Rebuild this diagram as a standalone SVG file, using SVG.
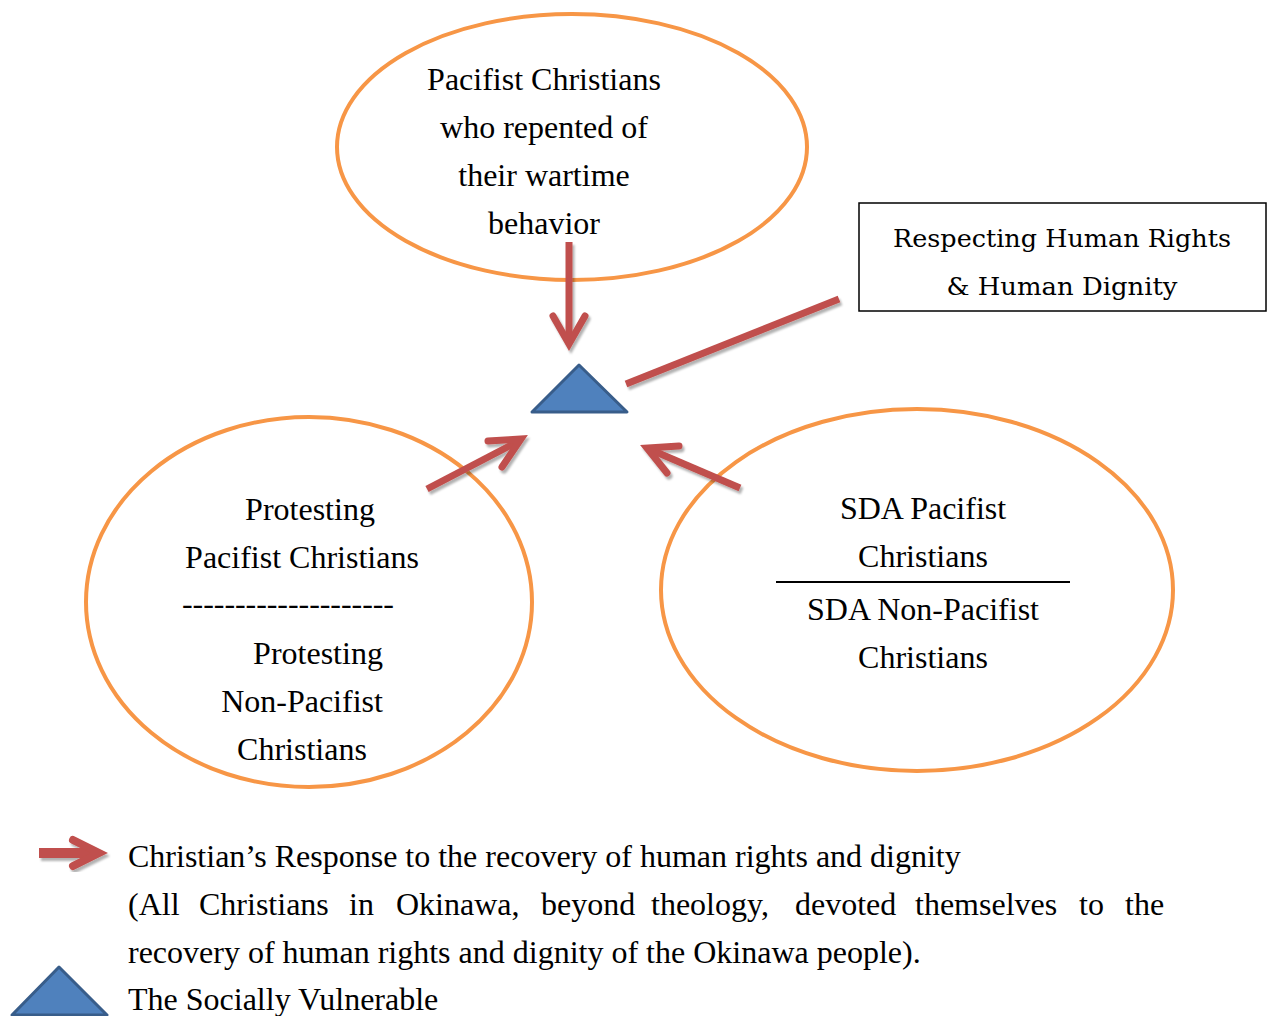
<svg xmlns="http://www.w3.org/2000/svg" width="1270" height="1016" viewBox="0 0 1270 1016">
  <style>
    .ring { fill: none; stroke: #F79646; stroke-width: 4; }
    .txt { font-family: "Liberation Serif", "Times New Roman", serif; font-size: 32px; fill: #000; }
    .mid { text-anchor: middle; }
    .boxtxt { font-family: "DejaVu Serif", "Liberation Serif", serif; font-size: 25px; fill: #000; text-anchor: middle; }
    .shaft { fill: none; stroke: #C0504D; stroke-width: 7; stroke-linecap: butt; }
    .head { fill: none; stroke: #C0504D; stroke-width: 7; stroke-linecap: round; stroke-linejoin: miter; stroke-miterlimit: 10; }
    .tri { fill: #4F81BD; stroke: #385D8A; stroke-width: 3; stroke-linejoin: round; }
  </style>
  <defs>
    <filter id="shadow" x="-20%" y="-20%" width="140%" height="140%">
      <feDropShadow dx="2" dy="3" stdDeviation="1.2" flood-color="#000" flood-opacity="0.3"/>
    </filter>
  </defs>
  <rect width="1270" height="1016" fill="#fff"/>

  <!-- Top circle -->
  <g id="node-repented">
    <ellipse class="ring" cx="572" cy="147" rx="235" ry="133"/>
    <text class="txt mid" x="544" y="90">Pacifist Christians</text>
    <text class="txt mid" x="544" y="138">who repented of</text>
    <text class="txt mid" x="544" y="186">their wartime</text>
    <text class="txt mid" x="544" y="234">behavior</text>
  </g>

  <!-- Left circle -->
  <g id="node-protesting">
    <ellipse class="ring" cx="309" cy="602" rx="223" ry="185"/>
    <text class="txt mid" x="310" y="520">Protesting</text>
    <text class="txt mid" x="302" y="568">Pacifist Christians</text>
    <text class="txt" x="182" y="614" textLength="212" lengthAdjust="spacing">--------------------</text>
    <text class="txt mid" x="318" y="664">Protesting</text>
    <text class="txt mid" x="302" y="712">Non-Pacifist</text>
    <text class="txt mid" x="302" y="760">Christians</text>
  </g>

  <!-- Right circle -->
  <g id="node-sda">
    <ellipse class="ring" cx="917" cy="590" rx="256" ry="181"/>
    <text class="txt mid" x="923" y="519">SDA Pacifist</text>
    <text class="txt mid" x="923" y="567">Christians</text>
    <line x1="776" y1="582" x2="1070" y2="582" stroke="#000" stroke-width="2"/>
    <text class="txt mid" x="923" y="620">SDA Non-Pacifist</text>
    <text class="txt mid" x="923" y="668">Christians</text>
  </g>

  <!-- Rights box -->
  <g id="node-rights">
    <rect x="859" y="203" width="407" height="108" fill="#fff" stroke="#000" stroke-width="1.5"/>
    <text class="boxtxt" x="1062" y="247" textLength="338" lengthAdjust="spacingAndGlyphs">Respecting Human Rights</text>
    <text class="boxtxt" x="1062" y="295" textLength="231" lengthAdjust="spacingAndGlyphs">&amp; Human Dignity</text>
  </g>

  <!-- Socially vulnerable -->
  <g id="node-vulnerable">
    <polygon class="tri" points="532,412 579,365 627,412"/>
  </g>

  <!-- Connectors -->
  <g id="connectors" filter="url(#shadow)">
    <line class="shaft" x1="569" y1="242" x2="569" y2="342"/>
    <polyline class="head" points="553,316 569,344 585,316"/>

    <line class="shaft" x1="626" y1="384" x2="839" y2="299"/>

    <line class="shaft" x1="427" y1="489" x2="519" y2="441"/>
    <polyline class="head" points="488,441 521,439 502,467"/>

    <line class="shaft" x1="740" y1="488" x2="649" y2="449"/>
    <polyline class="head" points="679,446 647,448 667,473"/>
  </g>

  <!-- Legend -->
  <g id="legend">
    <g filter="url(#shadow)">
      <line x1="39" y1="853" x2="96" y2="853" stroke="#C0504D" stroke-width="10"/>
      <polyline points="73,840 99,853 73,866" fill="none" stroke="#C0504D" stroke-width="8" stroke-linecap="round" stroke-linejoin="miter" stroke-miterlimit="10"/>
    </g>
    <polygon class="tri" points="12,1015 59,967 107,1015"/>
    <text class="txt" x="128" y="867">Christian’s Response to the recovery of human rights and dignity</text>
    <text class="txt" y="915"><tspan x="128">(All</tspan><tspan x="199">Christians</tspan><tspan x="349">in</tspan><tspan x="396">Okinawa,</tspan><tspan x="541">beyond</tspan><tspan x="651">theology,</tspan><tspan x="795">devoted</tspan><tspan x="915">themselves</tspan><tspan x="1079">to</tspan><tspan x="1125">the</tspan></text>
    <text class="txt" x="128" y="963">recovery of human rights and dignity of the Okinawa people).</text>
    <text class="txt" x="128" y="1010">The Socially Vulnerable</text>
  </g>
</svg>
